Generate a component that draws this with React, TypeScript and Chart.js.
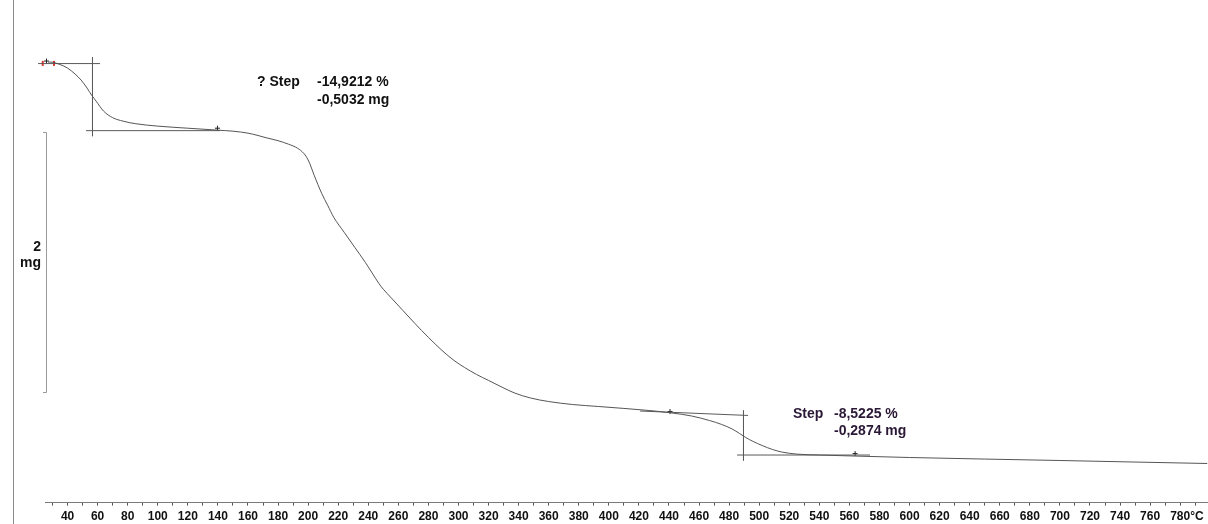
import React, { useEffect, useRef } from 'react';
import { Chart, registerables } from 'chart.js';

Chart.register(...registerables);

// TGA curve: temperature (°C) and mass (mg)
const temperatures = [
  27, 29, 35, 40, 45, 49, 53, 56, 59, 64, 70, 77, 85, 100, 120, 140, 150, 160, 166, 172,
  180, 187, 193, 197, 199, 201, 204, 209, 213, 217, 224, 231, 238, 243, 247, 250, 255, 263,
  271, 280, 289, 297, 304, 312, 320, 329, 337, 348, 360, 376, 393, 410, 427, 442, 455, 467,
  475, 482, 487, 491, 496, 502, 509, 515, 525, 540, 564, 600, 650, 700, 750, 798,
];
const massMg = [
  3.372, 3.372, 3.353, 3.326, 3.28, 3.234, 3.172, 3.118, 3.072, 2.995, 2.945, 2.918, 2.899,
  2.88, 2.864, 2.849, 2.841, 2.826, 2.81, 2.791, 2.768, 2.741, 2.71, 2.672, 2.641, 2.595,
  2.503, 2.364, 2.272, 2.18, 2.064, 1.949, 1.834, 1.744, 1.672, 1.627, 1.564, 1.464, 1.364,
  1.257, 1.157, 1.08, 1.026, 0.972, 0.926, 0.874, 0.831, 0.791, 0.764, 0.741, 0.726, 0.711,
  0.695, 0.676, 0.653, 0.618, 0.588, 0.553, 0.518, 0.488, 0.457, 0.426, 0.395, 0.376, 0.36,
  0.353, 0.345, 0.334, 0.322, 0.311, 0.299, 0.288,
];

// Step evaluation construction lines (temperature, mass)
const step1UpperT = [20.4, 61.6];
const step1UpperM = [3.3606, 3.3606];
const step1VertT = [56.59, 56.59];
const step1VertM = [3.41, 2.803];
const step1LowerT = [52.3, 141.4];
const step1LowerM = [2.8452, 2.8452];

const step2UpperT = [420.8, 492.6];
const step2UpperM = [0.691, 0.657];
const step2VertT = [489.56, 489.56];
const step2VertM = [0.695, 0.311];
const step2LowerT = [485.3, 573.7];
const step2LowerM = [0.353, 0.353];

// Evaluation limit markers
const markerT = [26, 139.7, 440.7, 563.8];
const markerM = [3.38, 2.864, 0.687, 0.364];
const redMarkT = [23.5, 31];
const redMarkM = [3.362, 3.362];

// Annotation texts
const step1Label = '? Step';
const step1Percent = '-14,9212 %';
const step1Mass = '-0,5032 mg';
const step2Label = 'Step';
const step2Percent = '-8,5225 %';
const step2Mass = '-0,2874 mg';

// Scale bar
const scaleBarMg = 2;
const scaleBarTop = 2.836;

// Axis
const xMin = 25;
const xMax = 798.5;
const yMin = -0.0125;
const yMax = 3.849;
const xTickStep = 10;
const xLabelStep = 20;
const xFirstLabel = 40;
const xLastLabel = 780;
const xUnit = '°C';

const FONT = '"Liberation Sans", Arial, sans-serif';

const pts = (xs: number[], ys: number[]) => xs.map((x, i) => ({ x, y: ys[i] }));

const lineDs = (xs: number[], ys: number[], color = '#5a5a5a') => ({
  data: pts(xs, ys),
  borderColor: color,
  borderWidth: 1,
  pointRadius: 0,
  tension: 0,
  clip: false as const,
  showLine: true,
});

const overlayPlugin = {
  id: 'overlay',
  afterDraw(chart: any) {
    const ctx = chart.ctx as CanvasRenderingContext2D;
    const xs = chart.scales.x;
    const ys = chart.scales.y;
    ctx.save();
    // left vertical axis line
    ctx.strokeStyle = '#8a8a8a';
    ctx.lineWidth = 1;
    ctx.beginPath();
    ctx.moveTo(13.5, 0);
    ctx.lineTo(13.5, chart.height);
    ctx.stroke();

    // scale bar bracket
    const top = Math.round(ys.getPixelForValue(scaleBarTop)) + 0.5;
    const bot = Math.round(ys.getPixelForValue(scaleBarTop - scaleBarMg)) + 0.5;
    ctx.strokeStyle = '#9a9a9a';
    ctx.beginPath();
    ctx.moveTo(43, top);
    ctx.lineTo(46.5, top);
    ctx.lineTo(46.5, bot);
    ctx.lineTo(43, bot);
    ctx.stroke();

    ctx.font = `bold 14px ${FONT}`;
    ctx.fillStyle = '#111';
    ctx.textAlign = 'right';
    ctx.textBaseline = 'alphabetic';
    const mid = (top + bot) / 2;
    ctx.fillText(String(scaleBarMg), 41, mid - 12);
    ctx.fillText('mg', 41, mid + 4);

    // step annotations
    ctx.textAlign = 'left';
    ctx.fillStyle = '#111';
    ctx.fillText(step1Label, 257, 86);
    ctx.fillText(step1Percent, 317, 86);
    ctx.fillText(step1Mass, 317, 104);

    ctx.fillStyle = '#2a1836';
    ctx.fillText(step2Label, 793, 418);
    ctx.fillText(step2Percent, 834, 418);
    ctx.fillText(step2Mass, 834, 435);

    // unit after last tick label
    ctx.font = `bold 12px ${FONT}`;
    ctx.fillStyle = '#111';
    const lx = xs.getPixelForValue(xLastLabel) + ctx.measureText(String(xLastLabel)).width / 2;
    ctx.textBaseline = 'middle';
    const labelY = xs.top + 3 + 4 + 7.2;
    ctx.fillText(xUnit, lx, labelY);
    ctx.restore();
  },
};

export default function App() {
  const ref = useRef<HTMLCanvasElement | null>(null);

  useEffect(() => {
    if (!ref.current) return;
    const chart = new Chart(ref.current, {
      type: 'line',
      data: {
        datasets: [
          {
            data: pts(temperatures, massMg),
            borderColor: '#555555',
            borderWidth: 1,
            pointRadius: 0,
            cubicInterpolationMode: 'monotone',
          } as any,
          lineDs(step1UpperT, step1UpperM),
          lineDs(step1VertT, step1VertM),
          lineDs(step1LowerT, step1LowerM),
          lineDs(step2UpperT, step2UpperM),
          lineDs(step2VertT, step2VertM),
          lineDs(step2LowerT, step2LowerM),
          {
            data: pts(markerT, markerM),
            showLine: false,
            pointStyle: 'cross',
            pointRadius: 2.5,
            borderColor: '#222',
            borderWidth: 1,
            clip: false,
          } as any,
          {
            data: pts(redMarkT, redMarkM),
            showLine: false,
            pointStyle: 'line',
            rotation: 90,
            pointRadius: 2.5,
            borderColor: '#e0302a',
            borderWidth: 2,
            clip: false,
          } as any,
        ],
      },
      options: {
        responsive: false,
        animation: false,
        events: [],
        layout: { autoPadding: false, padding: { left: 45, right: 0, top: 0, bottom: -4 } },
        plugins: { legend: { display: false }, tooltip: { enabled: false } },
        scales: {
          x: {
            type: 'linear',
            position: 'bottom',
            min: xMin,
            max: xMax,
            border: { display: true, color: '#7a7a7a', width: 1 },
            grid: {
              display: true,
              drawOnChartArea: false,
              drawTicks: true,
              tickLength: 3,
              tickColor: '#555',
              tickWidth: 1,
            },
            ticks: {
              stepSize: xTickStep,
              includeBounds: false,
              autoSkip: false,
              maxRotation: 0,
              minRotation: 0,
              padding: 4,
              color: '#111',
              font: { family: FONT, size: 12, weight: 'bold' },
              callback: (v: any) => {
                const n = Number(v);
                return n % xLabelStep === 0 && n >= xFirstLabel && n <= xLastLabel ? String(n) : '';
              },
            },
          },
          y: {
            type: 'linear',
            display: false,
            min: yMin,
            max: yMax,
          },
        },
      },
      plugins: [overlayPlugin],
    } as any);
    return () => chart.destroy();
  }, []);

  return (
    <div style={{ position: 'absolute', left: 0, top: 0, width: 1208, height: 524, background: '#fff' }}>
      <canvas ref={ref} width={1208} height={524} />
    </div>
  );
}
